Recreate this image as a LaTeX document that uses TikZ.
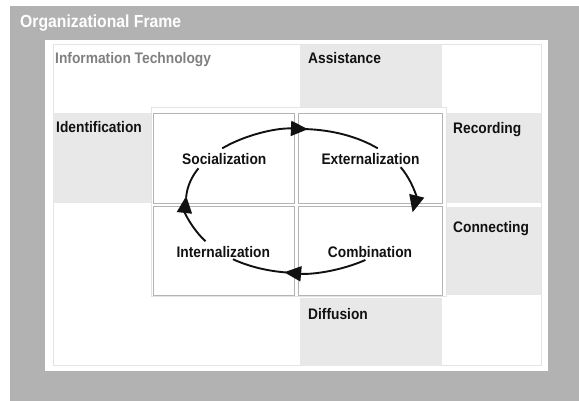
\documentclass[tikz,border=0pt]{standalone}
\usepackage{fontspec}
\setmainfont{Liberation Sans}[FakeStretch=0.9]
\usetikzlibrary{arrows.meta}
\definecolor{framegray}{HTML}{B2B2B2}
\definecolor{cellgray}{HTML}{E8E8E8}
\definecolor{boxline}{HTML}{B4B4B4}
\definecolor{faintline}{HTML}{E4E4E4}
\definecolor{itgray}{HTML}{808080}
\definecolor{ink}{HTML}{111111}
\begin{document}
\begin{tikzpicture}[x=1pt,y=1pt,
  area/.style={anchor=south west, inner sep=0pt, outer sep=0pt},
  cell/.style={area, fill=cellgray},
  seci/.style={area, fill=white, draw=boxline, line width=0.8pt},
  lbl/.style={anchor=base west, inner sep=0pt, text=ink,
    font=\bfseries\fontsize{15.3}{18}\selectfont},
  mode/.style={anchor=base, inner sep=0pt, text=ink,
    font=\bfseries\fontsize{15.3}{18}\selectfont},
  cyc/.style={line width=1.9pt, ink},
  tip/.style={-{Triangle[length=17pt,width=15pt]}}
]
\useasboundingbox (0,0) rectangle (579,401);
\fill[white] (0,0) rectangle (579,401);

% outer organisational frame and its white panel
\node[area, fill=framegray, minimum width=569, minimum height=395] (frame) at (10,0) {};
\node[anchor=base west, inner sep=0pt, text=white,
  font=\bfseries\fontsize{17.5}{20}\selectfont] (title) at (20,373.5) {Organizational Frame};
\node[area, fill=white, minimum width=503, minimum height=331] (panel) at (45,30) {};
\node[area, draw=faintline, line width=1pt, minimum width=488, minimum height=321] (inner) at (53,35) {};

% shaded cells of the surrounding grid
\node[cell, minimum width=142, minimum height=68] (assist) at (300,288) {};
\node[cell, minimum width=100, minimum height=90] (ident) at (53,198) {};
\node[cell, minimum width=99, minimum height=90] (record) at (442,198) {};
\node[cell, minimum width=99, minimum height=88] (connect) at (442,106) {};
\node[cell, minimum width=142, minimum height=68] (diffuse) at (300,35) {};

\node[anchor=base west, inner sep=0pt, text=itgray,
  font=\bfseries\fontsize{15.3}{18}\selectfont] (itlbl) at (55,337.5) {Information Technology};
\node[lbl] (assistlbl) at (308,337.5) {Assistance};
\node[lbl] (identlbl) at (56,268) {Identification};
\node[lbl] (recordlbl) at (453,267.5) {Recording};
\node[lbl] (connectlbl) at (453,168.5) {Connecting};
\node[lbl] (diffuselbl) at (308,81) {Diffusion};

% the four knowledge conversion modes
\node[area, fill=white, draw=faintline, line width=1pt, minimum width=295, minimum height=189] (modes) at (151,104) {};
\node[seci, minimum width=141, minimum height=90.5] (tl) at (153,197.5) {};
\node[seci, minimum width=143.5, minimum height=90.5] (tr) at (298.5,197.5) {};
\node[seci, minimum width=141, minimum height=88.5] (bl) at (153,106) {};
\node[seci, minimum width=143.5, minimum height=88.5] (br) at (298.5,106) {};

\node[mode] (social) at (224.3,236) {Socialization};
\node[mode] (external) at (370.5,236) {Externalization};
\node[mode] (internal) at (223.3,143.5) {Internalization};
\node[mode] (combine) at (370,143.5) {Combination};

% the spiral cycle between the modes
\coordinate (c) at (300,200);
\draw[cyc, tip] (c) ++(133:114pt and 72pt)
  arc[start angle=133, end angle=86, x radius=114pt, y radius=72pt];
\draw[cyc] (c) ++(87:114pt and 72pt)
  arc[start angle=87, end angle=47, x radius=114pt, y radius=72pt];
\draw[cyc, tip] (c) ++(28:114pt and 72pt)
  arc[start angle=28, end angle=-9, x radius=114pt, y radius=72pt];
\draw[cyc, tip] (c) ++(-55:114pt and 72pt)
  arc[start angle=-55, end angle=-98, x radius=114pt, y radius=72pt];
\draw[cyc] (c) ++(-97:114pt and 72pt)
  arc[start angle=-97, end angle=-126, x radius=114pt, y radius=72pt];
\draw[cyc, tip] (c) ++(214:114pt and 72pt)
  arc[start angle=214, end angle=176, x radius=114pt, y radius=72pt];
\draw[cyc] (c) ++(177:114pt and 72pt)
  arc[start angle=177, end angle=153, x radius=114pt, y radius=72pt];
\end{tikzpicture}
\end{document}
